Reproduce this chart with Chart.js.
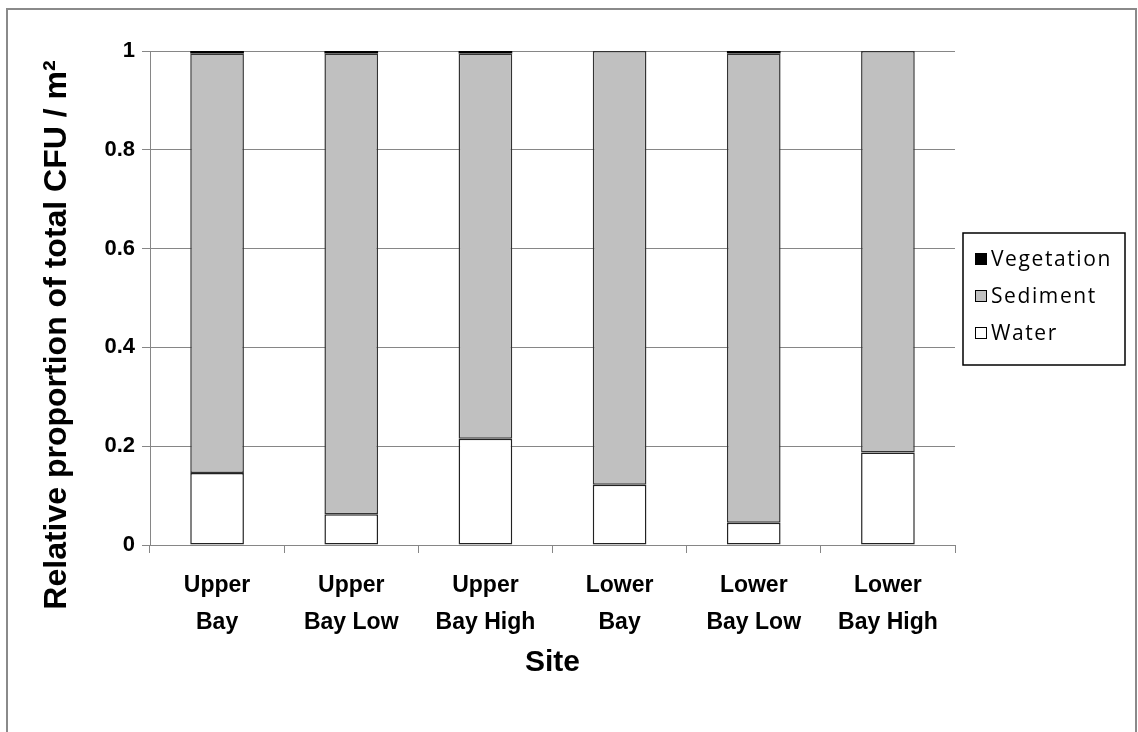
<!DOCTYPE html>
<html>
<head>
<meta charset="utf-8">
<script src="https://cdn.jsdelivr.net/npm/chart.js@4"></script>
<style>
html,body{margin:0;padding:0;background:#fff;}
#wrap{width:1138px;height:732px;position:relative;}
</style>
</head>
<body>
<div id="wrap"><canvas id="c" width="1138" height="732"></canvas></div>
<script>
const categories = [['Upper','Bay'],['Upper','Bay Low'],['Upper','Bay High'],['Lower','Bay'],['Lower','Bay Low'],['Lower','Bay High']];
const water = [0.146, 0.062, 0.215, 0.122, 0.045, 0.187];
const sediment = [0.849, 0.933, 0.780, 0.878, 0.950, 0.813];
const vegetation = [0.005, 0.005, 0.005, 0.0, 0.005, 0.0];
const yTicks = [0, 0.2, 0.4, 0.6, 0.8, 1];
const yTitle = 'Relative proportion of total CFU / m\u00B2';
const xTitle = 'Site';

const boldFont = "'Liberation Sans', Arial, sans-serif";
const legendFont = "'Open Sans', 'Noto Sans', sans-serif";

const frame = {
  id: 'frame',
  beforeDraw(chart) {
    const ctx = chart.ctx;
    ctx.save();
    ctx.fillStyle = '#fff';
    ctx.fillRect(0, 0, chart.width, chart.height);
    ctx.strokeStyle = '#8a8a8a';
    ctx.lineWidth = 2;
    ctx.strokeRect(7, 9, 1129, 760);
    ctx.restore();
  },
  afterDraw(chart) {
    const ctx = chart.ctx;
    const a = chart.chartArea;
    // y title
    ctx.save();
    ctx.translate(57, 335);
    ctx.rotate(-Math.PI / 2);
    ctx.font = "bold 32px " + boldFont;
    ctx.fillStyle = '#000';
    ctx.textAlign = 'center';
    ctx.textBaseline = 'middle';
    ctx.fillText(yTitle, 0, 0);
    ctx.restore();
    // legend
    const ds = chart.data.datasets.slice().reverse();
    const lx = a.right + 8, lw = 162, lh = 132;
    const ly = 233;
    ctx.save();
    ctx.fillStyle = '#fff';
    ctx.fillRect(lx, ly, lw, lh);
    ctx.strokeStyle = '#000';
    ctx.lineWidth = 1.5;
    ctx.strokeRect(lx, ly, lw, lh);
    ctx.font = "21px " + legendFont;
    if ('letterSpacing' in ctx) ctx.letterSpacing = '1.6px';
    ctx.textBaseline = 'middle';
    ctx.textAlign = 'left';
    ds.forEach((d, i) => {
      const cy = ly + 26 + i * 37;
      ctx.fillStyle = d.backgroundColor;
      ctx.fillRect(lx + 12, cy - 6, 12, 12);
      ctx.strokeStyle = '#000';
      ctx.lineWidth = 1;
      ctx.strokeRect(lx + 12.5, cy - 5.5, 11, 11);
      ctx.fillStyle = '#000';
      ctx.fillText(d.label, lx + 28, cy + 1);
    });
    ctx.restore();
  }
};

new Chart(document.getElementById('c'), {
  type: 'bar',
  data: {
    labels: categories,
    datasets: [
      {label: 'Water', data: water, backgroundColor: '#ffffff', borderColor: '#222', borderWidth: 1.5, borderSkipped: false},
      {label: 'Sediment', data: sediment, backgroundColor: '#c0c0c0', borderColor: '#333', borderWidth: 1.5, borderSkipped: false},
      {label: 'Vegetation', data: vegetation, backgroundColor: '#000000', borderColor: '#000', borderWidth: 0, borderSkipped: false}
    ]
  },
  options: {
    responsive: false,
    animation: false,
    devicePixelRatio: 1,
    layout: {padding: {left: 0, right: 183, top: 51, bottom: 0}},
    datasets: {bar: {categoryPercentage: 1.0, barPercentage: 0.4}},
    plugins: {legend: {display: false}, tooltip: {enabled: false}},
    scales: {
      x: {
        stacked: true,
        grid: {display: true, drawOnChartArea: false, drawTicks: true, tickLength: 8, color: '#868686', offset: true},
        border: {color: '#868686', width: 1},
        ticks: {color: '#000', font: {family: boldFont, size: 23, weight: 'bold', lineHeight: 1.6}, padding: 14, maxRotation: 0, autoSkip: false},
        title: {display: true, text: xTitle, color: '#000', font: {family: boldFont, size: 30, weight: 'bold'}, padding: {top: 0, bottom: 51}},
        afterFit(s) { s.height = 732 - 545; }
      },
      y: {
        stacked: true,
        min: 0, max: 1,
        afterBuildTicks(s) { s.ticks = yTicks.map(v => ({value: v})); },
        grid: {color: '#868686', tickLength: 8, drawTicks: true},
        border: {color: '#868686', width: 1},
        ticks: {color: '#000', font: {family: boldFont, size: 22, weight: 'bold'}, padding: 7, callback: (v) => String(v)},
        afterFit(s) { s.width = 150; }
      }
    }
  },
  plugins: [frame]
});
</script>
</body>
</html>
